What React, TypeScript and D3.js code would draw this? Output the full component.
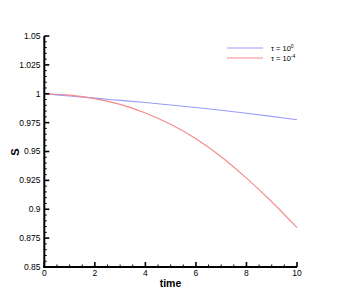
import React from "react";
import * as d3 from "d3";

const timeVals = [0, 1, 2, 3, 4, 5, 6, 7, 8, 9, 10];
const sTau0 = [1.0, 0.998, 0.9962, 0.9943, 0.9924, 0.9903, 0.9881, 0.9857, 0.9831, 0.9804, 0.9775];
const sTau4 = [1.0, 0.9988, 0.9958, 0.9908, 0.9833, 0.9735, 0.961, 0.9455, 0.927, 0.9065, 0.884];
const xTicks = [0, 2, 4, 6, 8, 10];
const yTicks = [0.85, 0.875, 0.9, 0.925, 0.95, 0.975, 1, 1.025, 1.05];
const yTickLabels = ["0.85", "0.875", "0.9", "0.925", "0.95", "0.975", "1", "1.025", "1.05"];
const seriesNames = ["0", "-4"];
const seriesColors = ["#9a9aff", "#f58a8a"];

export default function App() {
  const x = d3.scaleLinear().domain([0, 10]).range([44.3, 297]);
  const y = d3.scaleLinear().domain([0.85, 1.05]).range([267, 36]);
  const font = "'Liberation Sans', Arial, sans-serif";

  const line = (vals: number[]) =>
    d3
      .line<number>()
      .x((_, i) => x(timeVals[i]))
      .y((v) => y(v))
      .curve(d3.curveCatmullRom.alpha(0.5))(vals) || "";

  const xMinor = d3.range(0, 10.001, 0.5).filter((v) => Math.abs(v / 2 - Math.round(v / 2)) > 1e-6);
  const yMinor = d3
    .range(0, 41)
    .map((i) => 0.85 + i * 0.005)
    .filter((v) => Math.abs(v / 0.025 - Math.round(v / 0.025)) > 1e-6);

  const x0 = x(0);
  const yBase = y(0.85);

  return (
    <svg
      width={338}
      height={301}
      style={{ position: "absolute", left: 0, top: 0, background: "#fff" }}
      fontFamily={font}
    >
      {/* series */}
      <path d={line(sTau0)} fill="none" stroke={seriesColors[0]} strokeWidth={1.1} />
      <path d={line(sTau4)} fill="none" stroke={seriesColors[1]} strokeWidth={1.1} />

      {/* y axis */}
      <line x1={x0} x2={x0} y1={y(1.05)} y2={yBase + 1} stroke="#000" strokeWidth={2} />
      {yTicks.map((t, i) => (
        <g key={"yt" + i}>
          <line x1={x0} x2={x0 + 5} y1={y(t)} y2={y(t)} stroke="#000" strokeWidth={1.6} />
          <text x={40.5} y={y(t)} dy="0.35em" textAnchor="end" fontSize={8.5} fill="#000">
            {yTickLabels[i]}
          </text>
        </g>
      ))}
      {yMinor.map((t, i) => (
        <line key={"ym" + i} x1={x0} x2={x0 + 2.5} y1={y(t)} y2={y(t)} stroke="#000" strokeWidth={1} />
      ))}

      {/* x axis */}
      <line x1={x0 - 1} x2={x(10)} y1={yBase} y2={yBase} stroke="#000" strokeWidth={2} />
      {xTicks.map((t, i) => (
        <g key={"xt" + i}>
          <line x1={x(t)} x2={x(t)} y1={yBase} y2={yBase - 5} stroke="#000" strokeWidth={1.6} />
          <text x={x(t)} y={276} textAnchor="middle" fontSize={8.5} fill="#000">
            {String(t)}
          </text>
        </g>
      ))}
      {xMinor.map((t, i) => (
        <line key={"xm" + i} x1={x(t)} x2={x(t)} y1={yBase} y2={yBase - 2.5} stroke="#000" strokeWidth={1} />
      ))}

      {/* axis titles */}
      <text x={170.5} y={287} textAnchor="middle" fontSize={10.5} fontWeight="bold" fill="#000">
        time
      </text>
      <text
        transform={`translate(18.5, 152) rotate(-90)`}
        textAnchor="middle"
        fontSize={11}
        fontWeight="bold"
        fill="#000"
      >
        S
      </text>

      {/* legend */}
      {seriesNames.map((n, i) => (
        <g key={"lg" + i}>
          <line x1={227} x2={263} y1={48 + i * 10} y2={48 + i * 10} stroke={seriesColors[i]} strokeWidth={1.1} />
          <text x={271} y={51 + i * 10} fontSize={7.5} fill="#000">
            τ = 10
            <tspan dy={-3} fontSize={5}>
              {n}
            </tspan>
          </text>
        </g>
      ))}
    </svg>
  );
}
